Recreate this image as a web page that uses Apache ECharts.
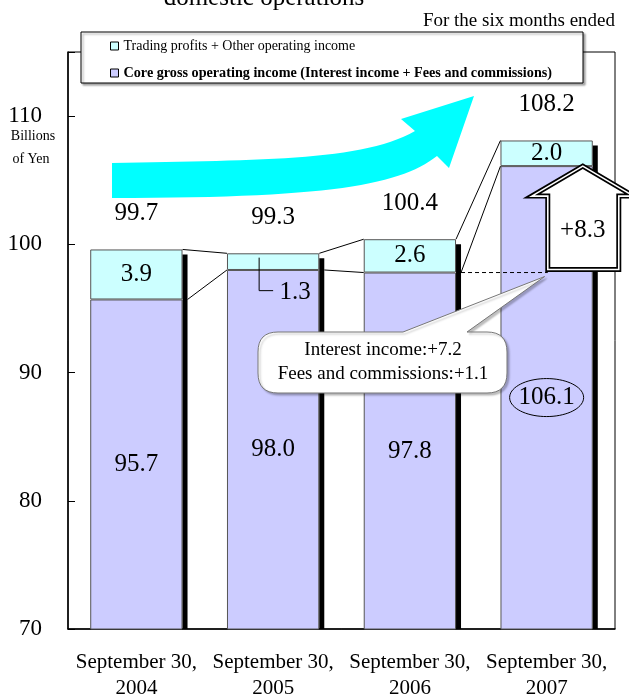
<!DOCTYPE html>
<html><head><meta charset="utf-8">
<script src="https://cdn.jsdelivr.net/npm/echarts@6/dist/echarts.min.js"></script>
<style>html,body{margin:0;padding:0;background:#fff}#c{width:629px;height:699px}</style>
</head><body><div id="c"></div>
<script>
// ---- data ----
const categories = ['September 30,\n2004', 'September 30,\n2005', 'September 30,\n2006', 'September 30,\n2007'];
const coreIncome = [95.7, 98.0, 97.8, 106.1];      // Core gross operating income
const tradingIncome = [3.9, 1.3, 2.6, 2.0];        // Trading profits + Other operating income
const totalLabels = ['99.7', '99.3', '100.4', '108.2'];
const yTicks = [70, 80, 90, 100, 110];
const changeLabel = '+8.3';
const calloutLines = ['Interest income:+7.2', 'Fees and commissions:+1.1'];
const seriesNames = ['Core gross operating income (Interest income + Fees and commissions)', 'Trading profits + Other operating income'];

// ---- styling ----
const FONT = 'Liberation Serif';
const BAR_FRAC = 0.675;
const SHADOW = 5;
const totals = coreIncome.map((v, i) => +(v + tradingIncome[i]).toFixed(1));

const chart = echarts.init(document.getElementById('c'), null, { renderer: 'canvas' });

const option = {
  animation: false,
  backgroundColor: '#fff',
  textStyle: { fontFamily: FONT, color: '#000' },
  grid: { left: 68, right: 14, top: 52, bottom: 70, show: true, borderColor: '#000', borderWidth: 1, backgroundColor: 'transparent', containLabel: false, outerBoundsMode: 'none' },
  legend: {
    orient: 'vertical', left: 110, top: 39, padding: 0, z: 6,
    itemWidth: 8, itemHeight: 8, itemGap: 13, icon: 'rect', selectedMode: false,
    itemStyle: { borderColor: '#000', borderWidth: 1 },
    textStyle: { fontFamily: FONT, fontSize: 14, lineHeight: 14, color: '#000' },
    data: [
      { name: seriesNames[1] },
      { name: seriesNames[0], textStyle: { fontWeight: 'bold', fontSize: 14.2 } }
    ]
  },
  xAxis: {
    type: 'category', data: categories, boundaryGap: true,
    axisLine: { lineStyle: { color: '#000', width: 1.5 } },
    axisTick: { inside: true, length: 7, interval: 0, lineStyle: { color: '#000' } },
    axisLabel: { interval: 0, margin: 20, fontFamily: FONT, fontSize: 21, lineHeight: 26, color: '#000' }
  },
  yAxis: {
    type: 'value', min: yTicks[0], max: 115, interval: 10,
    splitLine: { show: false },
    axisLine: { show: true, lineStyle: { color: '#000', width: 1.5 } },
    axisTick: { show: true, inside: true, length: 7, lineStyle: { color: '#000' } },
    axisLabel: {
      margin: 26, fontFamily: FONT, fontSize: 23, color: '#000',
      formatter: v => (yTicks.indexOf(v) >= 0 ? String(v) : '')
    }
  },
  series: [
    {
      name: seriesNames[0], type: 'bar', stack: 'total', barWidth: (BAR_FRAC * 100) + '%', z: 3,
      data: coreIncome,
      itemStyle: { color: '#CCCCFF', borderColor: '#555', borderWidth: 1 },
      label: { show: true, position: 'inside', fontFamily: FONT, fontSize: 25, color: '#000', formatter: p => p.value.toFixed(1) }
    },
    {
      name: seriesNames[1], type: 'bar', stack: 'total', barWidth: (BAR_FRAC * 100) + '%', z: 3,
      data: tradingIncome.map((v, i) => i === 1 ? { value: v, label: { offset: [22, 31] } } : v),
      itemStyle: { color: '#CCFFFF', borderColor: '#555', borderWidth: 1 },
      label: { show: true, position: 'inside', fontFamily: FONT, fontSize: 25, color: '#000', formatter: p => p.value.toFixed(1) }
    },
    {
      name: 'shadow', type: 'custom', z: 4, clip: false,
      data: totals.map((t, i) => [i, t]),
      encode: { x: 0, y: 1 },
      renderItem: function (params, api) {
        const i = params.dataIndex;
        const band = api.size([1, 0])[0];
        const half = band * BAR_FRAC / 2;
        const c = api.coord([i, totals[i]]);
        const base = api.coord([i, yTicks[0]]);
        const right = c[0] + half;
        const children = [
          { type: 'rect', shape: { x: right, y: c[1] + SHADOW, width: SHADOW, height: base[1] - c[1] - SHADOW }, style: { fill: '#000' } },
          { type: 'text', style: { text: totalLabels[i], x: c[0], y: c[1] - 36, align: 'center', verticalAlign: 'middle', fontFamily: FONT, fontSize: 25, fill: '#000' } }
        ];
        if (i < totals.length - 1) {
          const n = api.coord([i + 1, totals[i + 1]]);
          const cc = api.coord([i, coreIncome[i]]);
          const nc = api.coord([i + 1, coreIncome[i + 1]]);
          const nl = n[0] - half;
          children.push({ type: 'line', shape: { x1: right, y1: c[1], x2: nl, y2: n[1] }, style: { stroke: '#000', lineWidth: 1 } });
          children.push({ type: 'line', shape: { x1: right + SHADOW, y1: cc[1], x2: nl, y2: nc[1] }, style: { stroke: '#000', lineWidth: 1 } });
        }
        return { type: 'group', children: children };
      }
    }
  ]
};
chart.setOption(option);

// ---- helpers for decorative shapes ----
function cubic(p0, p1, p2, p3, n) {
  const out = [];
  for (let k = 0; k <= n; k++) {
    const t = k / n, u = 1 - t;
    out.push([
      u * u * u * p0[0] + 3 * u * u * t * p1[0] + 3 * u * t * t * p2[0] + t * t * t * p3[0],
      u * u * u * p0[1] + 3 * u * u * t * p1[1] + 3 * u * t * t * p2[1] + t * t * t * p3[1]
    ]);
  }
  return out;
}
function quad(p0, p1, p2, n) {
  const out = [];
  for (let k = 0; k <= n; k++) {
    const t = k / n, u = 1 - t;
    out.push([u * u * p0[0] + 2 * u * t * p1[0] + t * t * p2[0], u * u * p0[1] + 2 * u * t * p1[1] + t * t * p2[1]]);
  }
  return out;
}

// ---- annotations positioned from the chart's own scales ----
const px = (i, v) => chart.convertToPixel({ xAxisIndex: 0, yAxisIndex: 0 }, [i, v]);
const band = px(1, 0)[0] - px(0, 0)[0];
const half = band * BAR_FRAC / 2;

const b2 = px(1, coreIncome[1] + tradingIncome[1] / 2);       // center of 1.3 segment
const b3core = px(2, coreIncome[2]);
const b4core = px(3, coreIncome[3]);
const b4mid = px(3, (yTicks[0] + coreIncome[3]) / 2);
const arrowCx = b4core[0] + half - 10;
const tipY = b4core[1];
const baseY = b3core[1] - 3;
const dashEnd = arrowCx - 35;

const arrowPts = [
  [arrowCx, tipY], [arrowCx + 51, tipY + 30], [arrowCx + 36, tipY + 30], [arrowCx + 36, baseY],
  [arrowCx - 35, baseY], [arrowCx - 35, tipY + 30], [arrowCx - 51, tipY + 30]
];

// cyan trend arrow outline
const cyanPts = [].concat(
  cubic([112, 163], [250, 160], [362, 162], [415, 131], 30),
  [[401, 119], [474, 96], [449, 168], [437, 156]],
  cubic([437, 156], [400, 185], [330, 198], [112, 198], 30)
);

// callout bubble outline
const tip = [b4core[0] - 2, b3core[1] + 4];
const bubblePts = [].concat(
  [[278, 332], [403, 332], tip, [467, 332], [487, 332]],
  quad([487, 332], [507, 332], [507, 352], 8),
  quad([507, 373], [507, 393], [487, 393], 8),
  quad([278, 393], [258, 393], [258, 373], 8),
  quad([258, 352], [258, 332], [278, 332], 8)
);

// ellipse around 106.1
const ellPts = [];
for (let k = 0; k < 72; k++) {
  const a = k / 72 * Math.PI * 2;
  ellPts.push([b4mid[0] + 37 * Math.cos(a), b4mid[1] + 19 * Math.sin(a)]);
}

chart.setOption({
  graphic: [
    { type: 'text', z: 10, style: { text: 'domestic operations', x: 264, y: -2, align: 'center', verticalAlign: 'middle', fontFamily: FONT, fontSize: 25, fill: '#000' } },
    { type: 'text', z: 10, style: { text: 'For the six months ended', x: 615, y: 21, align: 'right', verticalAlign: 'middle', fontFamily: FONT, fontSize: 19, fill: '#000' } },
    { type: 'rect', z: 5, shape: { x: 81, y: 32, width: 502, height: 51 }, style: { fill: '#fff', stroke: '#000', lineWidth: 1, shadowColor: 'rgba(0,0,0,0.35)', shadowOffsetX: 2, shadowOffsetY: 2, shadowBlur: 2 } },
    { type: 'text', z: 10, style: { text: 'Billions', x: 33, y: 136, align: 'center', verticalAlign: 'middle', fontFamily: FONT, fontSize: 14, fill: '#000' } },
    { type: 'text', z: 10, style: { text: 'of Yen', x: 31, y: 159, align: 'center', verticalAlign: 'middle', fontFamily: FONT, fontSize: 14, fill: '#000' } },
    { type: 'polygon', z: 8, shape: { points: cyanPts }, style: { fill: '#00FFFF', stroke: 'none' } },
    { type: 'polyline', z: 8, shape: { points: [[b2[0] - 14, b2[1] - 4], [b2[0] - 14, b2[1] + 29], [b2[0], b2[1] + 29]] }, style: { stroke: '#000', lineWidth: 1, fill: 'none' } },
    { type: 'polygon', z: 8, shape: { points: ellPts }, style: { fill: 'none', stroke: '#000', lineWidth: 1 } },
    { type: 'line', z: 8, shape: { x1: b3core[0] + half + SHADOW, y1: b3core[1], x2: dashEnd, y2: b3core[1] }, style: { stroke: '#000', lineWidth: 1, lineDash: [4, 3] } },
    { type: 'polygon', z: 9, shape: { points: bubblePts },
      style: { fill: '#fff', stroke: '#777', lineWidth: 1, shadowColor: 'rgba(0,0,0,0.25)', shadowOffsetX: 2, shadowOffsetY: 2, shadowBlur: 2 } },
    { type: 'text', z: 10, style: { text: calloutLines[0], x: 383, y: 350, align: 'center', verticalAlign: 'middle', fontFamily: FONT, fontSize: 19, fill: '#000' } },
    { type: 'text', z: 10, style: { text: calloutLines[1], x: 383, y: 374, align: 'center', verticalAlign: 'middle', fontFamily: FONT, fontSize: 19, fill: '#000' } },
    { type: 'polygon', z: 9, shape: { points: arrowPts }, style: { fill: '#fff', stroke: '#000', lineWidth: 5, lineJoin: 'miter' } },
    { type: 'polygon', z: 9, shape: { points: arrowPts }, style: { fill: 'none', stroke: '#fff', lineWidth: 1.6, lineJoin: 'miter' } },
    { type: 'text', z: 10, style: { text: changeLabel, x: arrowCx, y: 230, align: 'center', verticalAlign: 'middle', fontFamily: FONT, fontSize: 25, fill: '#000' } }
  ]
});
</script>
</body></html>
